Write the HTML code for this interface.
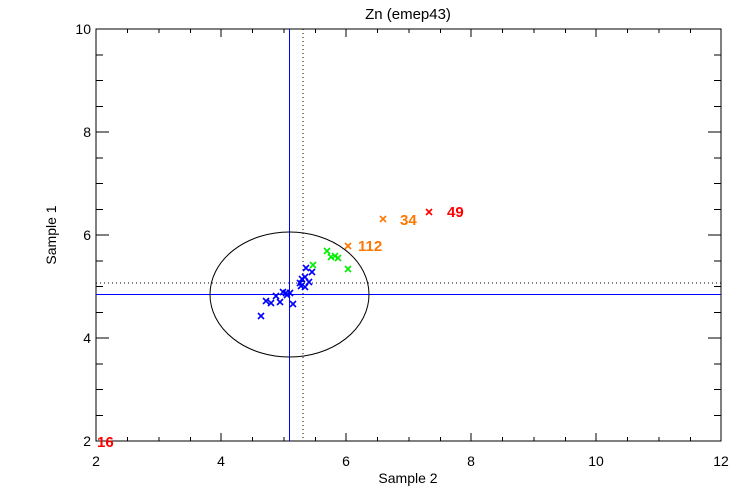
<!DOCTYPE html>
<html><head><style>body{margin:0;background:#fff}svg{display:block}</style></head><body>
<svg width="750" height="500" xmlns="http://www.w3.org/2000/svg" font-family="Liberation Sans, sans-serif">
<rect width="750" height="500" fill="#fff"/>
<text x="408" y="19" font-size="15" text-anchor="middle">Zn (emep43)</text>
<g stroke="#000" stroke-width="1" fill="none" shape-rendering="crispEdges">
<rect x="96" y="29" width="625" height="412"/>
<path id="tk" d="
M127.5 441v-4M159 441v-4M190.5 441v-4M221 441v-8M252.5 441v-4M284 441v-4M315.5 441v-4M346 441v-8M377.5 441v-4M409 441v-4M440.5 441v-4M471 441v-8M502.5 441v-4M534 441v-4M565.5 441v-4M596 441v-8M627.5 441v-4M659 441v-4M690.5 441v-4
M127.5 29v4M159 29v4M190.5 29v4M221 29v8M252.5 29v4M284 29v4M315.5 29v4M346 29v8M377.5 29v4M409 29v4M440.5 29v4M471 29v8M502.5 29v4M534 29v4M565.5 29v4M596 29v8M627.5 29v4M659 29v4M690.5 29v4
M96 54.75h7M96 80.5h7M96 106.25h7M96 132h13M96 157.75h7M96 183.5h7M96 209.25h7M96 235h13M96 260.75h7M96 286.5h7M96 312.25h7M96 338h13M96 363.75h7M96 389.5h7M96 415.25h7
M721 54.75h-7M721 80.5h-7M721 106.25h-7M721 132h-13M721 157.75h-7M721 183.5h-7M721 209.25h-7M721 235h-13M721 260.75h-7M721 286.5h-7M721 312.25h-7M721 338h-13M721 363.75h-7M721 389.5h-7M721 415.25h-7"/>
<line x1="303" y1="29" x2="303" y2="441" stroke-dasharray="1,3"/>
<line x1="96" y1="283" x2="721" y2="283" stroke-dasharray="1,3"/>
<line x1="289.5" y1="29" x2="289.5" y2="441" stroke="#00f"/>
<line x1="96" y1="294.5" x2="721" y2="294.5" stroke="#00f"/>
</g>
<ellipse cx="289.5" cy="294.5" rx="79.5" ry="62.5" fill="none" stroke="#000"/>
<g font-size="14" fill="#000">
<g text-anchor="middle"><text x="96" y="466">2</text><text x="221" y="466">4</text><text x="346" y="466">6</text><text x="471" y="466">8</text><text x="596" y="466">10</text><text x="721" y="466">12</text></g>
<g text-anchor="end"><text x="91" y="446">2</text><text x="91" y="343">4</text><text x="91" y="240">6</text><text x="91" y="137">8</text><text x="91" y="34">10</text></g>
<text x="408" y="483" text-anchor="middle">Sample 2</text>
<text transform="translate(56,235) rotate(-90)" text-anchor="middle">Sample 1</text>
</g>
<defs><path id="x" d="M-3-3L3 3M-3 3L3-3" stroke-width="1.6"/></defs>
<g stroke="#00f">
<use href="#x" x="261" y="316"/><use href="#x" x="266" y="301"/><use href="#x" x="271" y="303"/><use href="#x" x="280" y="302"/><use href="#x" x="276" y="296"/><use href="#x" x="283" y="292"/><use href="#x" x="287" y="295"/><use href="#x" x="290" y="293"/><use href="#x" x="286" y="293"/><use href="#x" x="293" y="304"/><use href="#x" x="300" y="283"/><use href="#x" x="302" y="279"/><use href="#x" x="305" y="277"/><use href="#x" x="306" y="268"/><use href="#x" x="312" y="272"/><use href="#x" x="309" y="282"/><use href="#x" x="305" y="287"/><use href="#x" x="301" y="286"/>
</g>
<g stroke="#0e0">
<use href="#x" x="313" y="265"/><use href="#x" x="327" y="251"/><use href="#x" x="331" y="257"/><use href="#x" x="335" y="256"/><use href="#x" x="338" y="258"/><use href="#x" x="348" y="269"/>
</g>
<g stroke="#f70"><use href="#x" x="348" y="246"/><use href="#x" x="383" y="219"/></g>
<g stroke="#f00"><use href="#x" x="429" y="212"/></g>
<g font-size="15" font-weight="bold">
<text x="358" y="251" fill="#f70">112</text>
<text x="400" y="225" fill="#f70">34</text>
<text x="447" y="217" fill="#f00">49</text>
<text x="97" y="447" fill="#f00">16</text>
</g>
</svg>
</body></html>
